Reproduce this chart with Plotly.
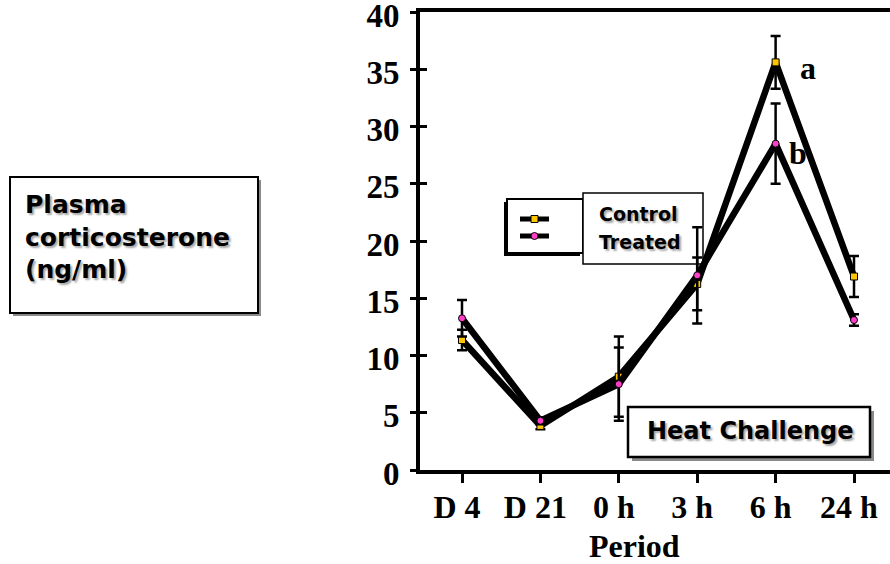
import plotly.graph_objects as go

# ---- data ----
periods = ["D 4", "D 21", "0 h", "3 h", "6 h", "24 h"]
control = [11.35, 3.85, 8.15, 16.25, 35.6, 16.9]
control_err = [0.9, 0.3, 3.5, 2.3, 2.3, 1.8]
treated = [13.25, 4.3, 7.5, 17.0, 28.5, 13.1]
treated_err = [1.6, 0.3, 3.2, 4.2, 3.5, 0.5]
y_ticks = [0, 5, 10, 15, 20, 25, 30, 35, 40]
series_names = ["Control", "Treated"]
y_title = "Plasma<br>corticosterone<br>(ng/ml)"
x_title = "Period"
box_label = "Heat Challenge"

# ---- geometry ----
W, H = 890, 564
ML, MR, MT, MB = 420, 0, 12, 94
PW, PH = W - ML - MR, H - MT - MB
X_RANGE = [-0.5357, 5.459]


def px(x):
    return (x - ML) / PW


def py(y):
    return (H - MB - y) / PH


SERIF = "Liberation Serif, Times New Roman, serif"
SANS = "DejaVu Sans, Arial, sans-serif"
SHADOW = "2px 2px 2px rgba(0,0,0,0.35)"
YELLOW = "#FFC400"
PINK = "#FF3FC8"

fig = go.Figure()
fig.add_trace(go.Scatter(
    x=periods, y=control, name=series_names[0], mode="lines+markers",
    line=dict(color="black", width=6.5),
    marker=dict(symbol="square", size=7, color=YELLOW, line=dict(color="black", width=1)),
    error_y=dict(type="data", array=control_err, color="black", thickness=2.5, width=5),
    showlegend=False,
))
fig.add_trace(go.Scatter(
    x=periods, y=treated, name=series_names[1], mode="lines+markers", yaxis="y2",
    line=dict(color="black", width=6.5),
    marker=dict(symbol="circle", size=7, color=PINK, line=dict(color="black", width=1)),
    error_y=dict(type="data", array=treated_err, color="black", thickness=2.5, width=5),
    showlegend=False,
))

shapes = []


def rect(x0, y0, x1, y1, line_w=2, fill="white", line_color="black"):
    shapes.append(dict(type="rect", xref="paper", yref="paper", layer="below",
                       x0=px(x0), x1=px(x1), y0=py(y1), y1=py(y0),
                       fillcolor=fill, line=dict(color=line_color, width=line_w)))


# y-title box
rect(13, 180, 261, 316, line_w=0, fill="#8a8a8a")
rect(10, 177, 258, 313, line_w=2)
# heat challenge box
rect(632, 411, 874, 461, line_w=0, fill="#8a8a8a")
rect(628, 407, 870, 457, line_w=2.5)
# legend boxes
rect(504, 202, 580, 256, line_w=0, fill="black")
rect(507, 199, 583, 253, line_w=2)
rect(583, 193, 703, 264, line_w=1.5)
# legend samples
for yy in (219, 236):
    shapes.append(dict(type="line", xref="paper", yref="paper", layer="below",
                       x0=px(520), x1=px(549), y0=py(yy), y1=py(yy),
                       line=dict(color="black", width=5)))
shapes.append(dict(type="rect", xref="paper", yref="paper", layer="below",
                   x0=px(531), x1=px(538), y0=py(222.5), y1=py(215.5),
                   fillcolor=YELLOW, line=dict(color="black", width=1)))
shapes.append(dict(type="circle", xref="paper", yref="paper", layer="below",
                   x0=px(531), x1=px(538), y0=py(239.5), y1=py(232.5),
                   fillcolor=PINK, line=dict(color="black", width=1)))

annotations = [
    dict(text="a", x=4.41, y=35.1, xref="x", yref="y", showarrow=False,
         font=dict(family=SERIF, size=32, color="black", weight="bold")),
    dict(text="b", x=4.29, y=27.7, xref="x", yref="y", showarrow=False,
         font=dict(family=SERIF, size=32, color="black", weight="bold")),
    dict(text=x_title, x=px(634), y=py(546), xref="paper", yref="paper", showarrow=False,
         xanchor="center", yanchor="middle",
         font=dict(family=SERIF, size=32, color="black", weight="bold")),
    dict(text=y_title, x=px(23), y=py(237), xref="paper", yref="paper", showarrow=False,
         xanchor="left", yanchor="middle", align="left",
         font=dict(family=SANS, size=25, color="black", weight="bold", shadow=SHADOW)),
    dict(text=box_label, x=px(750), y=py(431), xref="paper", yref="paper", showarrow=False,
         xanchor="center", yanchor="middle",
         font=dict(family=SANS, size=24, color="black", weight="bold", shadow=SHADOW)),
    dict(text=series_names[0], x=px(597), y=py(213.6), xref="paper", yref="paper", showarrow=False,
         xanchor="left", yanchor="middle",
         font=dict(family=SANS, size=19, color="black", weight="bold", shadow=SHADOW)),
    dict(text=series_names[1], x=px(597), y=py(241.6), xref="paper", yref="paper", showarrow=False,
         xanchor="left", yanchor="middle",
         font=dict(family=SANS, size=19, color="black", weight="bold", shadow=SHADOW)),
]

xtickfont = dict(family=SERIF, size=32, color="black", weight="bold")
ytickfont = dict(family=SERIF, size=33, color="black", weight="bold")

fig.update_layout(
    width=W, height=H,
    margin=dict(l=ML, r=MR, t=MT, b=MB, autoexpand=False),
    paper_bgcolor="white", plot_bgcolor="rgba(0,0,0,0)",
    showlegend=False,
    xaxis=dict(type="category", categoryorder="array", categoryarray=periods,
               range=X_RANGE, showgrid=False, zeroline=False,
               showline=True, linewidth=4, linecolor="black", mirror=True,
               ticks="outside", ticklen=9, tickwidth=3, tickcolor="black",
               tickfont=xtickfont, ticklabelstandoff=-3, ticklabelshift=-5,
               ticklabeloverflow="allow", automargin=False),
    yaxis=dict(range=[0, 40], tickvals=y_ticks, showgrid=False, zeroline=False,
               showline=True, linewidth=4, linecolor="black",
               ticks="outside", ticklen=6, tickwidth=3, tickcolor="black",
               tickfont=ytickfont, ticklabelstandoff=4, ticklabelshift=3,
               ticklabeloverflow="allow", automargin=False),
    yaxis2=dict(overlaying="y", side="left", range=[0, 40], tickvals=y_ticks,
                showgrid=False, zeroline=False, showline=False,
                ticks="inside", ticklen=7, tickwidth=3, tickcolor="black",
                showticklabels=False, automargin=False),
    shapes=shapes,
    annotations=annotations,
)

fig.write_html("out.html")
